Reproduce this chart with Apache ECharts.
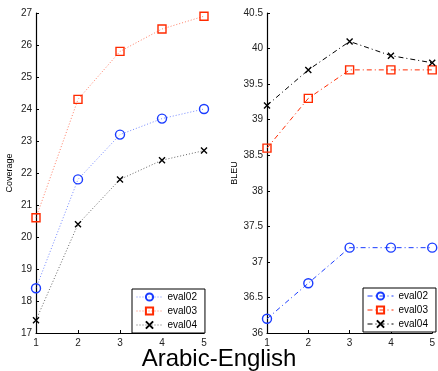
<!DOCTYPE html>
<html><head><meta charset="utf-8">
<script src="https://cdn.jsdelivr.net/npm/echarts@6/dist/echarts.min.js"></script>
<style>html,body{margin:0;padding:0;background:#fff}#c{width:438px;height:371px}</style>
</head><body><div id="c"></div>
<script>
const categories = [1, 2, 3, 4, 5];
const seriesNames = ['eval02', 'eval03', 'eval04'];
const coverage02 = [18.4, 21.8, 23.2, 23.7, 24.0];
const coverage03 = [20.6, 24.3, 25.8, 26.5, 26.9];
const coverage04 = [17.4, 20.4, 21.8, 22.4, 22.7];
const bleu02 = [36.2, 36.7, 37.2, 37.2, 37.2];
const bleu03 = [38.6, 39.3, 39.7, 39.7, 39.7];
const bleu04 = [39.2, 39.7, 40.1, 39.9, 39.8];

const FONT = 'Liberation Sans, Arial, sans-serif';
const colors = ['#1a3cff', '#ff2a00', '#000000'];
const symbols = ['circle', 'rect', 'path://M0,0L10,10M10,0L0,10'];
const sizes = [9, 8, 6];
const DOT = [1, 2];
const DASHDOT = [5, 3, 1, 3];

function pairs(arr){ return arr.map((v,i)=>[categories[i], v]); }

function mkSeries(data, idx, gi, dash, opacity){
  return {
    name: seriesNames[idx], type: 'line', xAxisIndex: gi, yAxisIndex: gi,
    data: pairs(data), symbol: symbols[idx], symbolSize: sizes[idx],
    showAllSymbol: true, clip: false, animation: false,
    lineStyle: {color: colors[idx], width: 1, type: dash, opacity: opacity},
    itemStyle: {color: idx===2 ? colors[idx] : 'rgba(0,0,0,0)', borderColor: colors[idx], borderWidth: 1.4},
    emphasis: {disabled: true}
  };
}

function xAxis(gi){
  return {type:'value', gridIndex: gi, min:1, max:5, interval:1,
    axisLine:{show:true, onZero:false, lineStyle:{color:'#000', width:1.2}},
    axisTick:{show:true, inside:true, length:3, lineStyle:{color:'#000'}},
    axisLabel:{color:'#222', fontSize:10, fontFamily:FONT, margin:5},
    splitLine:{show:false}};
}
function yAxis(gi, min, max, interval, name){
  return {type:'value', gridIndex: gi, min:min, max:max, interval:interval,
    name:name, nameLocation:'middle', nameGap: gi===0 ? 22 : 28, nameRotate:90,
    nameTextStyle:{color:'#000', fontSize:9, fontFamily:FONT},
    axisLine:{show:true, onZero:false, lineStyle:{color:'#000', width:1.2}},
    axisTick:{show:true, inside:true, length:3, lineStyle:{color:'#000'}},
    axisLabel:{color:'#222', fontSize:10, fontFamily:FONT, margin:4},
    splitLine:{show:false}};
}
function mkLegend(left, top, dash, opacity){
  return {
    data: seriesNames.map((n,i)=>({name:n,
      lineStyle:{color:colors[i], width:1, type:dash, opacity:opacity}})),
    orient:'vertical', left:left, top:top,
    itemWidth:26, itemHeight:9, itemGap:4, padding:[3,8,3,4],
    borderColor:'#000', borderWidth:1, backgroundColor:'#fff',
    textStyle:{fontSize:10, fontFamily:FONT, color:'#000'}, selectedMode:false
  };
}

const chart = echarts.init(document.getElementById('c'), null, {renderer:'canvas'});
chart.setOption({
  animation:false,
  backgroundColor:'#fff',
  title:{text:'Arabic-English', left:'center', top:342,
    textStyle:{fontSize:24, fontWeight:'normal', color:'#000', fontFamily:FONT}},
  grid:[
    {left:36, right:234, top:13, bottom:38},
    {left:267, right:3, top:13, bottom:38}
  ],
  xAxis:[xAxis(0), xAxis(1)],
  yAxis:[yAxis(0,17,27,1,'Coverage'), yAxis(1,36,40.5,0.5,'BLEU')],
  legend:[
    mkLegend(132, 289, DOT, 0.6),
    mkLegend(363, 288, DASHDOT, 1)
  ],
  series:[
    mkSeries(coverage02,0,0,DOT,0.6),
    mkSeries(coverage03,1,0,DOT,0.6),
    mkSeries(coverage04,2,0,DOT,0.6),
    mkSeries(bleu02,0,1,DASHDOT,1),
    mkSeries(bleu03,1,1,DASHDOT,1),
    mkSeries(bleu04,2,1,DASHDOT,1)
  ]
});
</script></body></html>
